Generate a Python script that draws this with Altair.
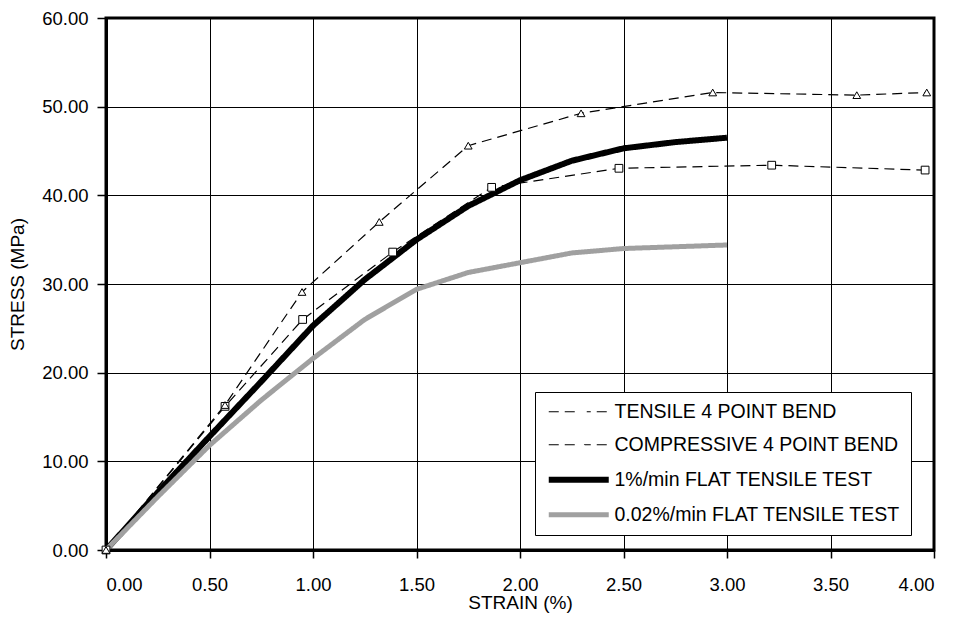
import altair as alt
import pandas as pd

series_names = [
    "TENSILE 4 POINT BEND",
    "COMPRESSIVE 4 POINT BEND",
    "1%/min FLAT TENSILE TEST",
    "0.02%/min FLAT TENSILE TEST",
]

tens_strain = [0.00, 0.575, 0.95, 1.385, 1.863, 2.478, 3.216, 3.957]
tens_stress = [0.0, 16.2, 26.0, 33.6, 40.9, 43.05, 43.4, 42.85]

comp_strain = [0.00, 0.575, 0.947, 1.32, 1.75, 2.295, 2.931, 3.627, 3.965]
comp_stress = [0.0, 16.35, 29.1, 37.0, 45.6, 49.25, 51.6, 51.3, 51.6]

fast_strain = [0.0, 0.25, 0.5, 0.75, 1.0, 1.25, 1.5, 1.75, 2.0, 2.25, 2.5, 2.75, 3.0]
fast_stress = [0.0, 6.5, 12.8, 19.0, 25.3, 30.5, 35.0, 38.8, 41.7, 43.9, 45.3, 46.0, 46.5]

slow_strain = [0.0, 0.25, 0.5, 0.75, 1.0, 1.25, 1.5, 1.75, 2.0, 2.25, 2.5, 2.75, 3.0]
slow_stress = [0.0, 6.0, 11.8, 16.9, 21.6, 26.0, 29.4, 31.3, 32.4, 33.5, 34.0, 34.2, 34.4]

x_ticks = [0.0, 0.5, 1.0, 1.5, 2.0, 2.5, 3.0, 3.5, 4.0]
y_ticks = [0, 10, 20, 30, 40, 50, 60]

rows = []
for name, xs, ys in [
    (series_names[0], tens_strain, tens_stress),
    (series_names[1], comp_strain, comp_stress),
    (series_names[2], fast_strain, fast_stress),
    (series_names[3], slow_strain, slow_stress),
]:
    for i, (a, b) in enumerate(zip(xs, ys)):
        rows.append({"series": name, "mseries": name, "strain": a, "stress": b, "idx": i})
df = pd.DataFrame(rows)
df_pts = df[df["series"].isin(series_names[:2])]

FONT = "Liberation Sans"
LX, LY = 429, 374

line_legend = alt.Legend(
    orient="none", legendX=LX, legendY=LY, zindex=1,
    symbolType="M-10,0H10", symbolSize=36, symbolOffset=24,
    labelFontSize=19.5, labelFont=FONT, labelColor="black", labelLimit=400,
    labelOffset=26, rowPadding=12, padding=10,
    strokeColor="black", fillColor="white",
)

shape_legend = alt.Legend(
    orient="none", legendX=LX, legendY=LY, zindex=5,
    symbolSize=100, symbolOffset=27,
    symbolFillColor="white", symbolStrokeColor="black", symbolStrokeWidth=1.3,
    symbolDash=[1, 0],
    labelFontSize=19.5, labelFont=FONT, labelOpacity=0, labelLimit=400,
    labelOffset=8, rowPadding=12, padding=10,
)

x_enc = alt.X(
    "strain:Q",
    scale=alt.Scale(domain=[0, 4], nice=False),
    axis=alt.Axis(values=x_ticks, format=".2f", title="STRAIN (%)",
                  labelPadding=17, tickSize=8, titlePadding=0),
)
y_enc = alt.Y(
    "stress:Q",
    scale=alt.Scale(domain=[0, 60], nice=False),
    axis=alt.Axis(values=y_ticks, format=".2f", title="STRESS (MPa)",
                  labelPadding=9, tickSize=9, titlePadding=14),
)

lines = alt.Chart(df).mark_line().encode(
    x=x_enc,
    y=y_enc,
    order="idx:Q",
    color=alt.Color("series:N", title=None,
                    scale=alt.Scale(domain=series_names, range=["black", "black", "black", "#a0a0a0"]),
                    legend=line_legend),
    strokeDash=alt.StrokeDash("series:N", title=None,
                              scale=alt.Scale(domain=series_names, range=[[10, 6], [10, 6], [1, 0], [1, 0]]),
                              legend=line_legend),
    strokeWidth=alt.StrokeWidth("series:N", title=None,
                                scale=alt.Scale(type="ordinal", domain=series_names, range=[1.2, 1.2, 6, 5]),
                                legend=line_legend),
)

points = alt.Chart(df_pts).mark_point(filled=False, fill="white", stroke="black", strokeWidth=1, opacity=1, size=60).encode(
    x="strain:Q",
    y="stress:Q",
    shape=alt.Shape("mseries:N", title=None,
                    scale=alt.Scale(domain=series_names[:2], range=["square", "triangle-up"]),
                    legend=shape_legend),
)

chart = alt.layer(lines, points).properties(
    width=828, height=532,
    autosize=alt.AutoSizeParams(type="none"),
    padding={"left": 98, "top": 10, "right": 15, "bottom": 72},
).configure_view(
    stroke="black", strokeWidth=3
).configure_axis(
    domainColor="black", domainWidth=3,
    gridColor="black", gridWidth=1, gridOpacity=1,
    tickColor="black", tickWidth=1.5,
    labelFont=FONT, labelFontSize=18.5, labelColor="black",
    titleFont=FONT, titleFontSize=19, titleFontWeight="normal", titleColor="black",
)

chart.save("out.html", embed_options={"renderer": "svg", "actions": False})
